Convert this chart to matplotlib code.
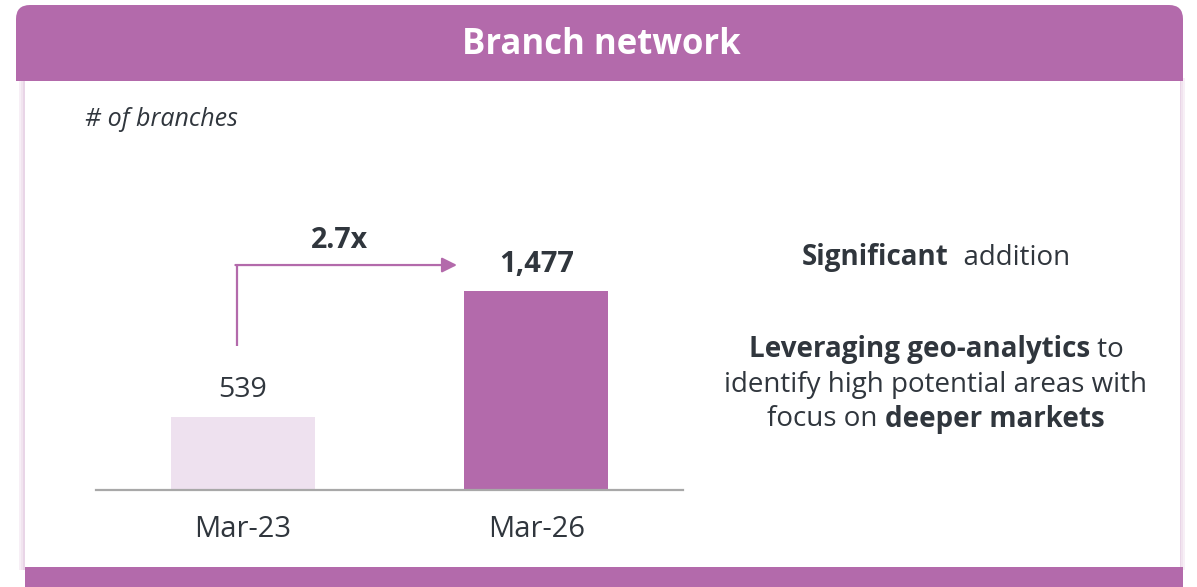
import matplotlib
matplotlib.use("Agg")
import matplotlib.pyplot as plt
from matplotlib.patches import FancyBboxPatch, Rectangle

plt.rcParams['font.family'] = ['Open Sans', 'DejaVu Sans']

# ---- data ----
categories = ["Mar-23", "Mar-26"]
values = [539, 1477]
value_labels = ["539", "1,477"]
growth_label = "2.7x"
title = "Branch network"
unit_label = "# of branches"

PURPLE = "#B36AAB"
LIGHT = "#EEE1EF"
TXT = "#30363D"

W, H = 1197, 587
fig = plt.figure(figsize=(W / 100, H / 100), dpi=100)
fig.patch.set_facecolor("white")

def fx(px):
    return px / W

def fy(py):
    return 1 - py / H

# background panel elements
bg = fig.add_axes([0, 0, 1, 1], zorder=0)
bg.set_xlim(0, W)
bg.set_ylim(H, 0)
bg.axis("off")
for i, a in enumerate([0.10, 0.18, 0.28]):
    bg.add_patch(Rectangle((19 + i * 2, 78), 2, 492, color=PURPLE, alpha=a, lw=0))
    bg.add_patch(Rectangle((1183 - i * 2, 78), 2, 492, color=PURPLE, alpha=a, lw=0))
bg.add_patch(Rectangle((26, 78), 1154, 492, color="white", lw=0))
# header
bg.add_patch(FancyBboxPatch((16, 5), 1167, 76, boxstyle="round,pad=0,rounding_size=14",
                            color=PURPLE, lw=0))
bg.add_patch(Rectangle((16, 50), 1167, 31, color=PURPLE, lw=0))
bg.text(601, 45, title, color="white", fontsize=25, fontweight="bold",
        ha="center", va="center")
# bottom bar
bg.add_patch(Rectangle((25, 567), 1158, 25, color=PURPLE, lw=0))

bg.text(85, 120, unit_label, color=TXT, fontsize=18, style="italic",
        ha="left", va="center")

# ---- bar chart ----
base_y, top_y = 490, 190
ax = fig.add_axes([fx(96), fy(base_y), fx(683 - 96), (base_y - top_y) / H], zorder=1)
ax.patch.set_alpha(0)
x = list(range(len(categories)))
colors = [LIGHT, PURPLE]
ax.bar(x, values, width=0.49, color=colors, zorder=2)
ax.set_xlim(-0.5, 1.5)
ax.set_ylim(0, 2227)
for s in ["top", "right", "left"]:
    ax.spines[s].set_visible(False)
ax.spines["bottom"].set_color("#A8A8A8")
ax.spines["bottom"].set_linewidth(1.6)
ax.set_yticks([])
ax.set_xticks(x)
ax.set_xticklabels(categories, fontsize=21, color=TXT)
ax.tick_params(axis="x", length=0, pad=18)

ax.text(x[0], values[0] + 100, value_labels[0], ha="center", va="bottom",
        fontsize=20.5, color=TXT)
ax.text(x[1], values[1] + 90, value_labels[1], ha="center", va="bottom",
        fontsize=21, fontweight="bold", color=TXT)

# growth arrow
ax.plot([-0.02, -0.02], [1070, 1670], color=PURPLE, lw=1.6, solid_capstyle="butt")
ax.annotate("", xy=(0.73, 1670), xytext=(-0.025, 1670),
            arrowprops=dict(arrowstyle="-|>,head_length=0.9,head_width=0.45",
                            color=PURPLE, lw=1.6, shrinkA=0, shrinkB=0))
ax.text(0.33, 1745, growth_label, ha="center", va="bottom", fontsize=20.5,
        fontweight="bold", color=TXT)

# ---- right-hand text with mixed weights ----
fig.canvas.draw()
renderer = fig.canvas.get_renderer()

def mixed_line(segments, cx, cy, size=20):
    objs = []
    widths = []
    for t, b in segments:
        o = bg.text(0, cy, t, fontsize=size, color=TXT,
                    fontweight="bold" if b else "normal", ha="left", va="center")
        w = o.get_window_extent(renderer=renderer).width
        objs.append(o)
        widths.append(w)
    total = sum(widths)
    start = cx - total / 2
    for o, w in zip(objs, widths):
        o.set_x(start)
        start += w

mixed_line([("Significant", True), ("  addition", False)], 936, 258)
mixed_line([("Leveraging geo-analytics", True), (" to", False)], 936, 350)
mixed_line([("identify high potential areas with", False)], 936, 385)
mixed_line([("focus on ", False), ("deeper markets", True)], 936, 419)

fig.savefig("out.png", dpi=100, facecolor="white")
